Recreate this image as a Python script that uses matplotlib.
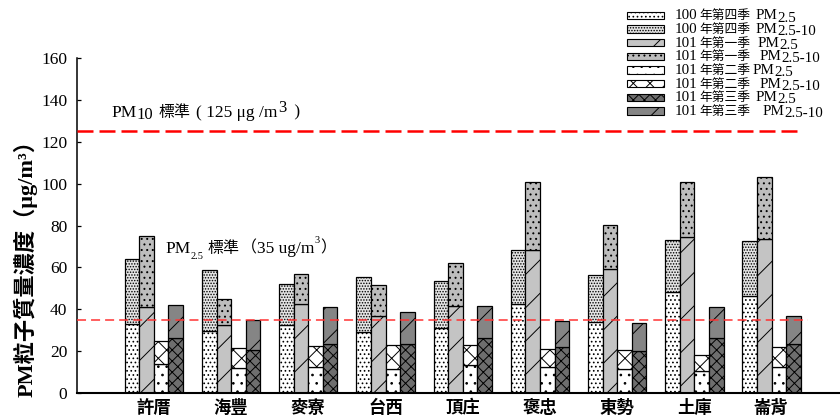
import matplotlib
matplotlib.use("Agg")
import matplotlib.pyplot as plt
import numpy as np
from matplotlib.patches import Rectangle

SERIF = "Liberation Serif"
CJK = "Noto Sans CJK TC"
plt.rcParams["font.family"] = [SERIF, CJK]
plt.rcParams["hatch.linewidth"] = 0.7

# ---- data (µg/m3) ----
stations = ["許厝", "海豐", "麥寮", "台西", "頂庄", "褒忠", "東勢", "土庫", "崙背"]
seasons = ["100年第四季", "101年第一季", "101年第二季", "101年第三季"]

pm25_100q4 = [33.0, 29.8, 32.6, 29.1, 30.9, 42.4, 33.8, 48.1, 46.3]
coarse_100q4 = [31.0, 28.8, 19.6, 26.1, 22.6, 25.9, 22.4, 25.0, 26.1]
pm25_101q1 = [41.2, 32.3, 42.5, 36.9, 41.5, 68.3, 59.2, 74.6, 73.4]
coarse_101q1 = [33.9, 12.6, 14.2, 14.7, 20.4, 32.3, 20.9, 26.0, 29.6]
pm25_101q2 = [13.8, 11.8, 12.6, 11.5, 13.2, 12.6, 11.6, 10.3, 12.4]
coarse_101q2 = [10.9, 9.8, 9.7, 11.4, 9.6, 8.6, 8.8, 7.7, 9.7]
pm25_101q3 = [26.1, 20.7, 23.4, 23.4, 26.1, 21.8, 19.9, 26.1, 23.3]
coarse_101q3 = [15.8, 14.0, 17.7, 15.4, 15.6, 12.4, 13.5, 14.8, 13.3]

pm10_std = 125
pm25_std = 35
y_ticks = [0, 20, 40, 60, 80, 100, 120, 140, 160]

fine_series = [pm25_100q4, pm25_101q1, pm25_101q2, pm25_101q3]
coarse_series = [coarse_100q4, coarse_101q1, coarse_101q2, coarse_101q3]

# fill / hatch for each season: (PM2.5 part, PM2.5-10 part)
fine_styles = [
    dict(facecolor="white", hatch="...."),
    dict(facecolor="#c4c4c4", hatch="/"),
    dict(facecolor="white", hatch=".."),
    dict(facecolor="#6e6e6e", hatch="xxx"),
]
coarse_styles = [
    dict(facecolor="#e4e4e4", hatch="......"),
    dict(facecolor="#bdbdbd", hatch="..."),
    dict(facecolor="white", hatch="xx"),
    dict(facecolor="#858585", hatch="/"),
]

W, H = 840, 418
fig = plt.figure(figsize=(W / 100, H / 100), dpi=100)
ax = fig.add_axes([77 / W, 1 - 393 / H, 1 - 77 / W, (393 - 58) / H])

x = np.arange(len(stations))
width = 0.189
offsets = (np.arange(len(seasons)) - 1.5) * width
edge = dict(edgecolor="black", linewidth=0.9)

for i in range(len(seasons)):
    ax.bar(x + offsets[i], fine_series[i], width, **fine_styles[i], **edge, zorder=2)
    ax.bar(x + offsets[i], coarse_series[i], width, bottom=fine_series[i],
           **coarse_styles[i], **edge, zorder=2)

ax.set_xlim(-0.996, 8.887)
ax.set_ylim(0, 160)

# standard lines
ax.hlines(pm10_std, -0.996, 8.33, colors="#ff0000", linewidth=1.8,
          linestyles=(0, (6.4, 2.4)), zorder=3)
ax.hlines(pm25_std, -0.996, 8.47, colors="#ff3333", linewidth=1.1,
          linestyles=(0, (5.9, 3.3)), zorder=3)

for side in ("top", "right"):
    ax.spines[side].set_visible(False)
ax.spines["left"].set_linewidth(1.1)
ax.spines["bottom"].set_linewidth(1.5)

ax.set_yticks(y_ticks)
ax.tick_params(axis="y", direction="in", length=3, width=0.9, pad=7, labelsize=12.5)
ax.set_xticks(x)
ax.set_xticklabels(stations, fontfamily=CJK, fontweight="bold", fontsize=12.5)
ax.tick_params(axis="x", length=0, pad=4)

fig.text(25 / W, 1 - 263 / H, "PM粒子質量濃度（μg/m³）", rotation=90,
         fontsize=16, fontweight="bold", family=[SERIF, CJK],
         ha="center", va="center")


def run_text(x0, y0, parts, transform):
    """Draw text pieces left to right on one baseline.
    Each piece: (text, size, family, baseline shift pt, gap pt)."""
    prev = None
    for text, size, family, shift, gap in parts:
        style = dict(fontsize=size, family=family, va="baseline", ha="left",
                     textcoords="offset points", xytext=(gap, shift),
                     annotation_clip=False)
        if prev is None:
            prev = ax.annotate(text, xy=(x0, y0), xycoords=transform, **style)
        else:
            prev = ax.annotate(text, xy=(1, y0), xycoords=(prev, transform), **style)
    return prev


# standard labels
run_text(-0.55, 132.0, [
    ("PM", 12.5, SERIF, 0, 0),
    ("10", 12.0, SERIF, -2.0, 0),
    ("標準", 11.5, CJK, 0, 4),
    ("( 125 μg /m", 12.5, SERIF, 0, 4),
    ("3", 12.0, SERIF, 3.0, 0.5),
    (" )", 12.5, SERIF, 0, 2),
], ax.transData)

run_text(0.144, 67.1, [
    ("PM", 12.5, SERIF, 0, 0),
    ("2.5", 7.5, SERIF, -4.5, 0),
    ("標準", 11.5, CJK, 0, 3),
    ("（", 11.5, CJK, 0, 1),
    ("35 ug/m", 12.5, SERIF, 0, 0),
    ("3", 7.5, SERIF, 7.0, 0.5),
    ("）", 11.5, CJK, 0, 0),
], ax.transData)

# legend
layers = ["2.5", "2.5-10"]
gaps_px = [7, 7, 9, 11, 3, 11, 7, 15]
row = 0
for i, season in enumerate(seasons):
    for j, layer in enumerate(layers):
        cy = 15.3 + 13.65 * row
        style = fine_styles[i] if j == 0 else coarse_styles[i]
        fig.add_artist(Rectangle((627 / W, 1 - (cy + 3.7) / H), 37 / W, 7.4 / H,
                                 transform=fig.transFigure, edgecolor="black",
                                 linewidth=0.8, **style))
        run_text(675 / W, 1 - (cy + 4.0) / H, [
            (season[:3], 10.8, SERIF, 0, 0),
            (season[3:], 9.2, CJK, 0, 1.0),
            ("PM", 10.8, SERIF, 0, gaps_px[row] * 0.6),
            (layer, 10.8, SERIF, -1.6, 0),
        ], fig.transFigure)
        row += 1

fig.savefig("out.png", dpi=100)
